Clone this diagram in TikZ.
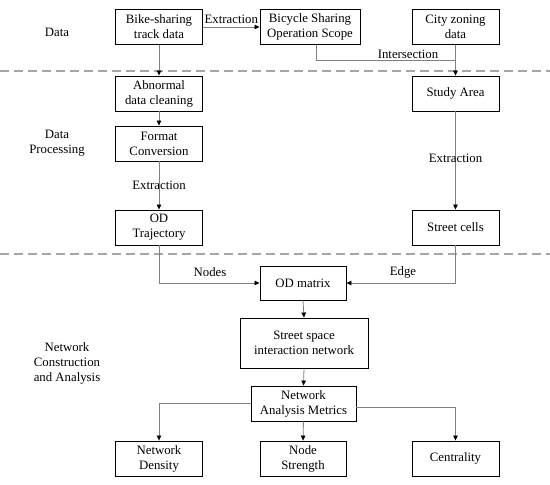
\documentclass[tikz,border=0pt]{standalone}
\usepackage{fontspec}
\setmainfont{Liberation Serif}
\usetikzlibrary{arrows.meta}
\begin{document}
\begin{tikzpicture}[x=1pt,y=-1pt,
  txt/.style={font=\fontsize{12.8}{15}\selectfont, align=center, inner sep=0pt},
  box/.style={txt, draw=black, line width=0.9pt, minimum width=87pt, minimum height=35pt},
  conn/.style={draw=black!50, line width=0.8pt},
  arr/.style={conn, -{Triangle[length=5pt,width=4.5pt,fill=black,color=black]}},
  sep/.style={draw=black!35, line width=1.4pt, dash pattern=on 9pt off 5pt}]
\useasboundingbox (0,0) rectangle (550,485);
% separators
\coordinate (s1a) at (0,71); \coordinate (s1b) at (550,71);
\coordinate (s2a) at (0,254); \coordinate (s2b) at (550,254);
\draw[sep] (s1a) -- (s1b);
\draw[sep] (s2a) -- (s2b);
% side labels
\node[txt] (lData) at (57,32) {Data};
\node[txt] (lProc) at (57,143.5) {Data\\Processing};
\node[txt] (lNet) at (67,363) {Network\\Construction\\and Analysis};
% boxes
\node[box] (bike) at (159,27) {Bike-sharing\\track data};
\node[box, minimum width=100pt] (scope) at (310,27) {Bicycle Sharing\\Operation Scope};
\node[box] (city) at (455.5,27) {City zoning\\data};
\node[box] (abn) at (159,93.5) {Abnormal\\data cleaning};
\node[box] (study) at (455.5,93.5) {Study Area};
\node[box] (fmt) at (159,143.5) {Format\\Conversion};
\node[box] (odt) at (159,227.5) {OD\\Trajectory};
\node[box] (cells) at (455.5,227.5) {Street cells};
\node[box, minimum width=86pt, minimum height=34pt] (odm) at (303,283) {OD matrix};
\node[box, minimum width=128pt, minimum height=50pt] (ssin) at (304,343) {Street space\\interaction network};
\node[box, minimum width=105pt] (nam) at (303.5,403.5) {Network\\Analysis Metrics};
\node[box] (nd) at (159,458.5) {Network\\Density};
\node[box, minimum width=86pt] (ns) at (303,458.5) {Node\\Strength};
\node[box] (cent) at (455.5,458.5) {Centrality};
% connectors
\draw[arr] (bike.east) -- node[txt, above=3pt] (lEx1) {Extraction} (scope.west);
\draw[arr] (bike.south) -- (abn.north);
\draw[arr] (abn.south) -- (fmt.north);
\draw[arr] (fmt.south) -- node[txt] (lEx2) {Extraction} (odt.north);
\coordinate (jn) at (455.5,60);
\draw[conn] (scope.south -| 316,0) |- (jn);
\node[txt, above=1.5pt] (lInt) at (408,60) {Intersection};
\draw[arr] (city.south) -- (study.north);
\draw[arr] (study.south) -- node[txt, pos=0.48] (lEx3) {Extraction} (cells.north);
\draw[arr] (odt.south) |- (odm.west);
\node[txt] (lNodes) at (210,272) {Nodes};
\draw[arr] (cells.south) |- (odm.east);
\node[txt] (lEdge) at (403,272) {Edge};
\draw[arr] (odm.south) -- (ssin.north);
\draw[arr] (ssin.south) -- (nam.north);
\draw[arr] (nam.west) -| (nd.north);
\draw[arr] (nam.south) -- (ns.north);
\draw[arr] (nam.east |- 0,407) -| (cent.north);
\end{tikzpicture}
\end{document}
